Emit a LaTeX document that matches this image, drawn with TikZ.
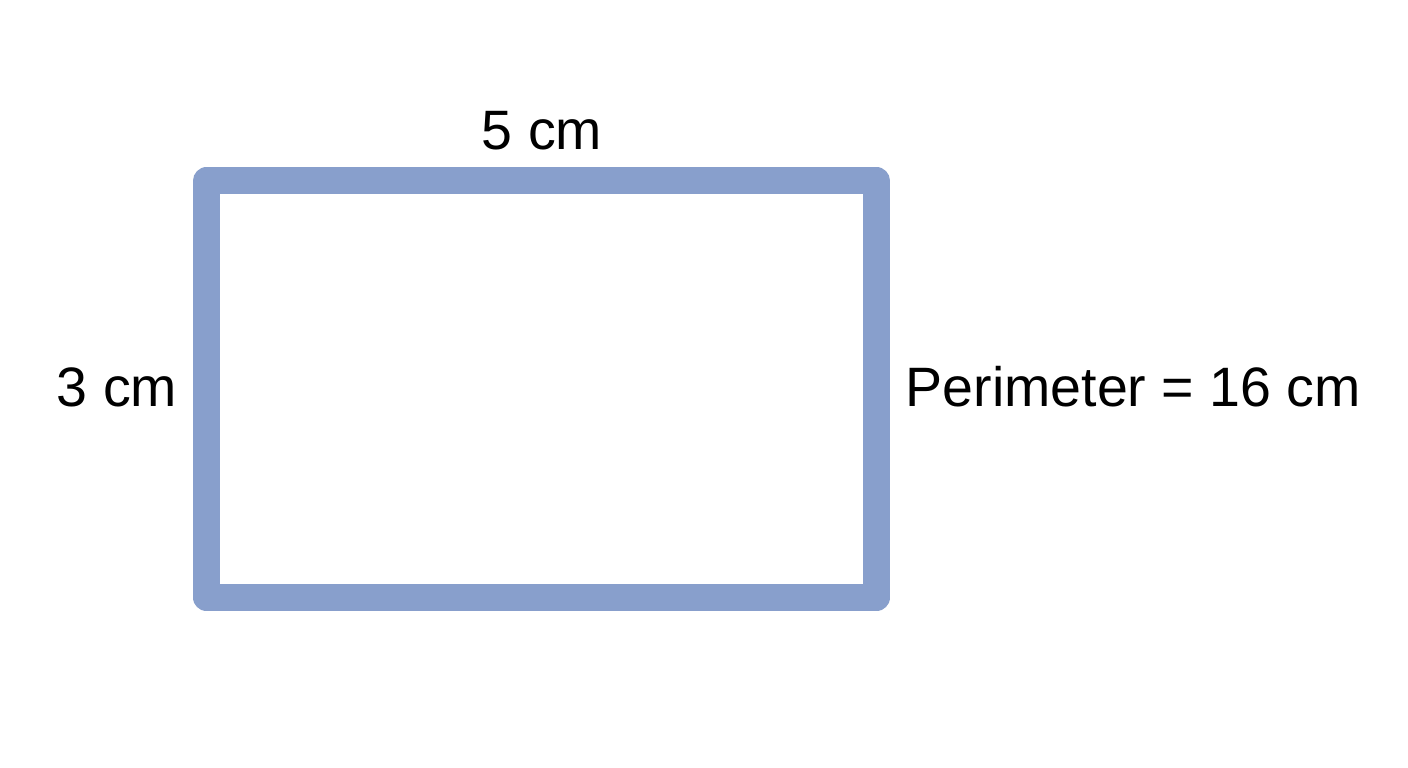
\documentclass[tikz,border=0pt]{standalone}
\usepackage{fontspec}
\setmainfont{Liberation Sans}
\usepackage{tikz}
\usetikzlibrary{backgrounds,positioning}
\definecolor{sideblue}{HTML}{889FCC}

\begin{document}
\begin{tikzpicture}[
  side/.style={draw=sideblue, line width=0.27cm, line join=round, fill=white},
  lab/.style={inner sep=0pt, font=\fontsize{15.8pt}{19pt}\selectfont}]
\useasboundingbox[fill=white] (0,0) rectangle (14.08,7.68);
\node[side, minimum width=6.7cm, minimum height=4.165cm] (rect) at (5.415,3.7875) {};
\node[lab, anchor=base] (top) at (5.42,6.18) {5 cm};
\node[lab, anchor=base east] (left) at (1.78,3.61) {3 cm};
\node[lab, anchor=base west] (perim) at (9.05,3.61) {Perimeter = 16 cm};
\end{tikzpicture}
\end{document}
